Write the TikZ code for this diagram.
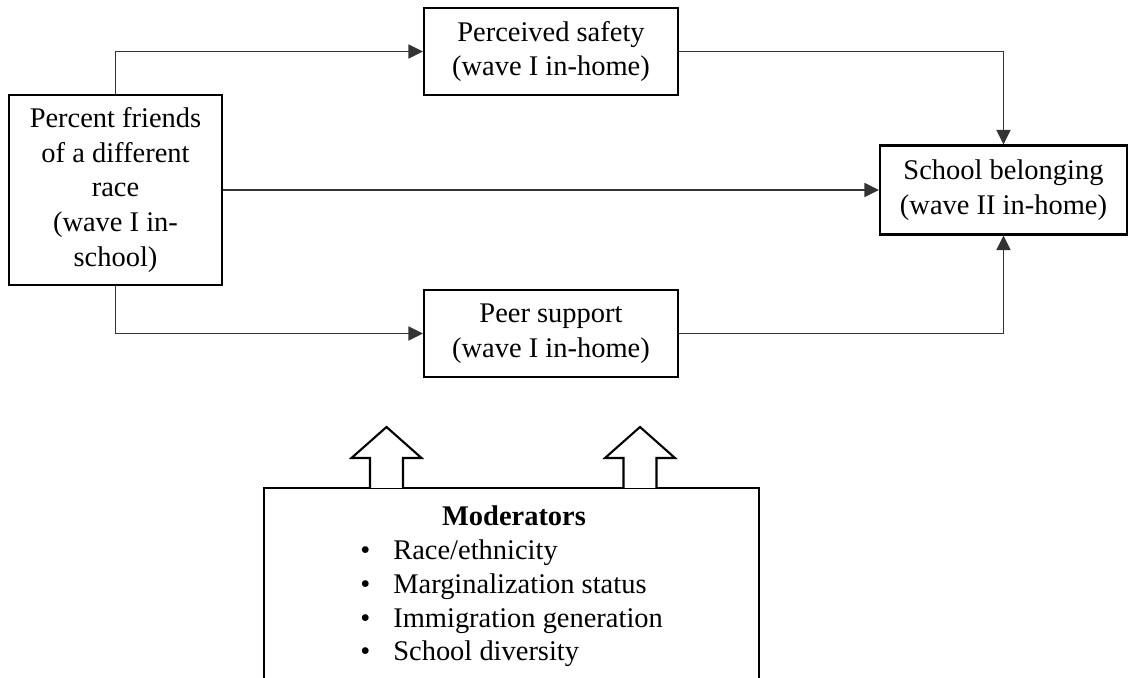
\documentclass[tikz,border=0pt]{standalone}
\usepackage{fontspec}
\setmainfont{Liberation Serif}
\usetikzlibrary{arrows.meta}

\begin{document}
\begin{tikzpicture}[>={Triangle[length=0.29cm, width=0.28cm]}, x=0.02cm, y=-0.02cm, line join=miter,
    txt/.style={font=\fontsize{16.2}{19.9}\selectfont},
    box/.style={txt, draw, line width=1.2pt, align=center, inner sep=0pt},
    link/.style={->, line width=0.7pt, draw=black!80},
    bigarrow/.style={draw, line width=1.2pt, fill=white}]

    \clip (0,0) rectangle (1130,678);

    % 自变量、中介变量与因变量
    \node[box, minimum width=4.26cm, minimum height=3.8cm] (friends) at (115.5,190) {Percent friends\\of a different\\race\\(wave I in-\\school)};
    \node[box, minimum width=5.08cm, minimum height=1.74cm] (safety) at (551,51.5) {Perceived safety\\(wave I in-home)};
    \node[box, minimum width=5.08cm, minimum height=1.74cm] (peer) at (551,333.5) {Peer support\\(wave I in-home)};
    \node[box, minimum width=4.94cm, minimum height=1.78cm] (belong) at (1003.5,190) {School belonging\\(wave II in-home)};

    % 路径
    \draw[link] (friends.north) |- (safety.west);
    \draw[link] (friends.south) |- (peer.west);
    \draw[link] (friends.east) -- (belong.west);
    \draw[link] (safety.east) -| (belong.north);
    \draw[link] (peer.east) -| (belong.south);

    % 调节变量框
    \node[box, minimum width=9.9cm, minimum height=4.64cm] (mod) at (511.5,604) {};
    \node[txt, font=\fontsize{16.2}{19.9}\selectfont\bfseries, anchor=base] (modtitle) at (514,526) {Moderators};
    \foreach \modname [count=\i] in {Race/ethnicity, Marginalization status, Immigration generation, School diversity}
        \node[txt, anchor=base west, inner sep=0pt] (mod\i) at (393,526+33.7*\i) {\llap{\textbullet\hspace{0.46cm}}\modname};

    % 空心箭头
    \foreach \ax in {386.5, 640}
        \draw[bigarrow] (\ax-16.5,488) -- (\ax-16.5,458) -- (\ax-35,458) -- (\ax,427)
            -- (\ax+35,458) -- (\ax+16.5,458) -- (\ax+16.5,488);

\end{tikzpicture}
\end{document}
